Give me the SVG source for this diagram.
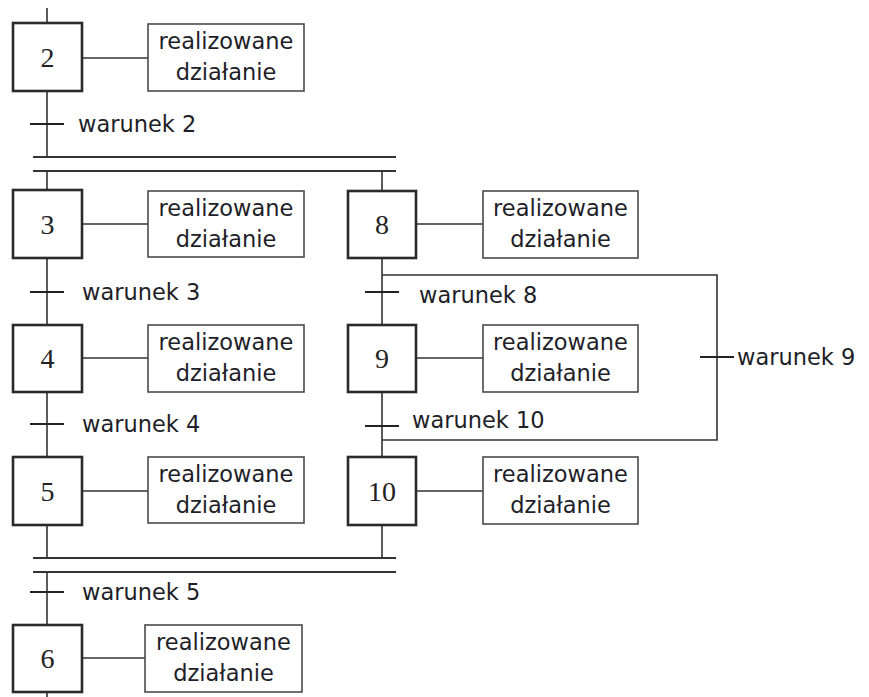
<svg xmlns="http://www.w3.org/2000/svg" width="869" height="697" viewBox="0 0 869 697">
  <style>
    .step { fill: #ffffff; stroke: #2a2a2a; stroke-width: 2.6; }
    .act { fill: #ffffff; stroke: #4a4a4a; stroke-width: 1.6; }
    .num { font-family: "Liberation Serif", "Times New Roman", serif; font-size: 28px; fill: #222222; text-anchor: middle; }
    .lbl { font-family: "DejaVu Sans", Verdana, sans-serif; font-size: 22.5px; fill: #1e1e28; }
    .actt { font-family: "DejaVu Sans", Verdana, sans-serif; font-size: 22.5px; fill: #1e1e28; text-anchor: middle; }
    .ln { fill: none; stroke: #333333; stroke-width: 1.6; }
    .bar { fill: none; stroke: #333333; stroke-width: 2.2; }
    .tick { fill: none; stroke: #222222; stroke-width: 2.2; }
  </style>

  <!-- connectors: flow lines, synchronisation bars, transitions -->
  <g id="connectors">
    <!-- left column -->
    <path class="ln" d="M47 8 V23 M47 91 V157 M47 171 V190 M47 258 V325 M47 392 V457 M47 525 V558 M47 572 V625 M47 692 V697"/>
    <!-- right column with loop -->
    <path class="ln" d="M382 171 V191 M382 258 V325 M382 392 V457 M382 525 V558"/>
    <path class="ln" d="M382 275 H717 V440 H382"/>
    <!-- step to action links -->
    <path class="ln" d="M82 58 H148 M82 224 H148 M82 358 H148 M82 491 H148 M82 658 H145 M416 224 H483 M416 358 H483 M416 491 H483"/>
    <!-- parallel divergence / convergence bars -->
    <path class="bar" d="M33 157 H396 M33 171 H396 M33 558 H396 M33 572 H396"/>
    <!-- transition ticks -->
    <path class="tick" d="M30 124 H64 M30 292 H64 M30 424 H64 M30 592 H64 M365 292 H399 M365 426 H399 M700 357 H734"/>
  </g>

  <!-- transition labels -->
  <g id="transitions">
    <text class="lbl" x="78" y="132">warunek 2</text>
    <text class="lbl" x="82" y="300">warunek 3</text>
    <text class="lbl" x="82" y="432">warunek 4</text>
    <text class="lbl" x="82" y="600">warunek 5</text>
    <text class="lbl" x="419" y="303">warunek 8</text>
    <text class="lbl" x="412" y="428">warunek 10</text>
    <text class="lbl" x="737" y="365">warunek 9</text>
  </g>

  <!-- steps -->
  <g id="step2"><rect class="step" x="13" y="23" width="69" height="68"/><text class="num" x="47.5" y="67">2</text></g>
  <g id="step3"><rect class="step" x="13" y="190" width="69" height="68"/><text class="num" x="47.5" y="234">3</text></g>
  <g id="step4"><rect class="step" x="13" y="325" width="69" height="67"/><text class="num" x="47.5" y="368">4</text></g>
  <g id="step5"><rect class="step" x="13" y="457" width="69" height="68"/><text class="num" x="47.5" y="501">5</text></g>
  <g id="step6"><rect class="step" x="13" y="625" width="69" height="67"/><text class="num" x="47.5" y="668">6</text></g>
  <g id="step8"><rect class="step" x="348" y="191" width="68" height="67"/><text class="num" x="382" y="234">8</text></g>
  <g id="step9"><rect class="step" x="348" y="325" width="68" height="67"/><text class="num" x="382" y="368">9</text></g>
  <g id="step10"><rect class="step" x="348" y="457" width="68" height="68"/><text class="num" x="382" y="501">10</text></g>

  <!-- actions -->
  <g id="action2"><rect class="act" x="148" y="24" width="156" height="67"/><text class="actt" x="226" y="49">realizowane</text><text class="actt" x="226" y="80">działanie</text></g>
  <g id="action3"><rect class="act" x="148" y="191" width="156" height="66"/><text class="actt" x="226" y="216">realizowane</text><text class="actt" x="226" y="247">działanie</text></g>
  <g id="action4"><rect class="act" x="148" y="325" width="156" height="67"/><text class="actt" x="226" y="350">realizowane</text><text class="actt" x="226" y="381">działanie</text></g>
  <g id="action5"><rect class="act" x="148" y="457" width="156" height="66"/><text class="actt" x="226" y="482">realizowane</text><text class="actt" x="226" y="513">działanie</text></g>
  <g id="action6"><rect class="act" x="145" y="625" width="157" height="67"/><text class="actt" x="223.5" y="650">realizowane</text><text class="actt" x="223.5" y="681">działanie</text></g>
  <g id="action8"><rect class="act" x="483" y="191" width="155" height="67"/><text class="actt" x="560.5" y="216">realizowane</text><text class="actt" x="560.5" y="247">działanie</text></g>
  <g id="action9"><rect class="act" x="483" y="325" width="155" height="67"/><text class="actt" x="560.5" y="350">realizowane</text><text class="actt" x="560.5" y="381">działanie</text></g>
  <g id="action10"><rect class="act" x="483" y="457" width="155" height="67"/><text class="actt" x="560.5" y="482">realizowane</text><text class="actt" x="560.5" y="513">działanie</text></g>
</svg>
